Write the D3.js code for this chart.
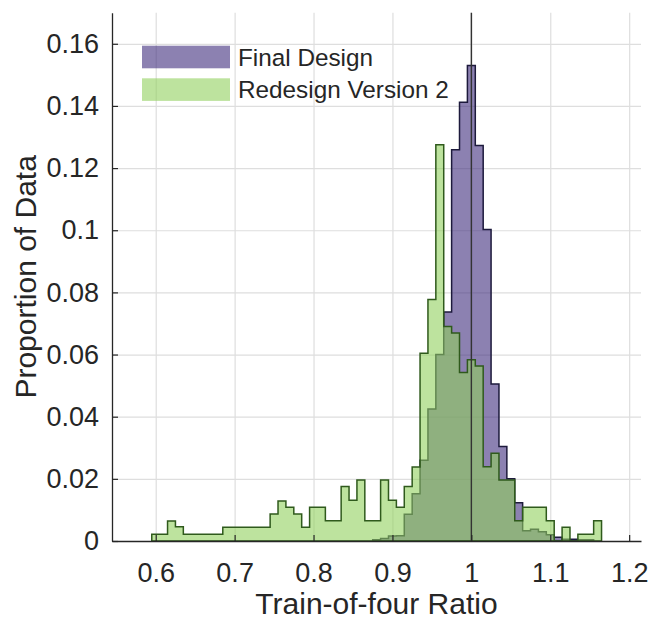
<!DOCTYPE html>
<html>
	<head>
		<title>Train-of-four histogram</title>
		<style>
			body,html
			{
				margin:0px;
				background:#ffffff;
			}
			text
			{
				font-family:"Liberation Sans", Arial, Helvetica, sans-serif;
				fill:#262626;
			}
		</style>
		<script src='https://cdn.jsdelivr.net/npm/d3@7/dist/d3.min.js'></script>
	</head>
	<body>
	<svg id='chart' width='650' height='622'></svg>
	<script>

		// histogram bins are 0.01 wide, listed by bin centre
		var binWidth = 0.01;

		var finalBins = [0.88, 0.89, 0.90, 0.91, 0.92, 0.93, 0.94, 0.95, 0.96, 0.97,
			0.98, 0.99, 1.00, 1.01, 1.02, 1.03, 1.04, 1.05, 1.06, 1.07,
			1.08, 1.09, 1.10, 1.11, 1.12, 1.13, 1.14, 1.15];
		var finalValues = [0.0004, 0.0008, 0.0016, 0.0017, 0.0086, 0.0152, 0.0260, 0.0425, 0.0600, 0.0737,
			0.1259, 0.1412, 0.1530, 0.1273, 0.1002, 0.0505, 0.0304, 0.0200, 0.0123, 0.0033,
			0.0038, 0.0030, 0.0020, 0.0012, 0.0006, 0.0006, 0.0004, 0.0004];

		var redesignBins = [0.60, 0.61, 0.62, 0.63, 0.64, 0.65, 0.66, 0.67, 0.68, 0.69,
			0.70, 0.71, 0.72, 0.73, 0.74, 0.75, 0.76, 0.77, 0.78, 0.79,
			0.80, 0.81, 0.82, 0.83, 0.84, 0.85, 0.86, 0.87, 0.88, 0.89,
			0.90, 0.91, 0.92, 0.93, 0.94, 0.95, 0.96, 0.97, 0.98, 0.99,
			1.00, 1.01, 1.02, 1.03, 1.04, 1.05, 1.06, 1.07, 1.08, 1.09,
			1.10, 1.11, 1.12, 1.13, 1.14, 1.15, 1.16];
		var redesignValues = [0.0022, 0.0022, 0.0064, 0.0046, 0.0022, 0.0022, 0.0022, 0.0022, 0.0022, 0.0044,
			0.0044, 0.0044, 0.0044, 0.0044, 0.0044, 0.0087, 0.0129, 0.0109, 0.0087, 0.0044,
			0.0109, 0.0109, 0.0065, 0.0065, 0.0175, 0.0131, 0.0196, 0.0065, 0.0065, 0.0196,
			0.0131, 0.0109, 0.0175, 0.0238, 0.0604, 0.0777, 0.1275, 0.0690, 0.0669, 0.0542,
			0.0583, 0.0563, 0.0239, 0.0282, 0.0196, 0.0196, 0.0065, 0.0109, 0.0109, 0.0109,
			0.0065, 0, 0.0044, 0, 0.0022, 0.0022, 0.0065];

		var xTicks = [0.6, 0.7, 0.8, 0.9, 1, 1.1, 1.2];
		var yTicks = [0, 0.02, 0.04, 0.06, 0.08, 0.1, 0.12, 0.14, 0.16];
		var seriesNames = ['Final Design', 'Redesign Version 2'];
		var refValue = 1;

		var width = 650;
		var height = 622;
		var margin = {left:112, right:9, top:12.7, bottom:81};

		var svg = d3.select('#chart');

		var x = d3.scaleLinear()
			.domain([0.5446, 1.215])
			.range([margin.left, width - margin.right]);

		var y = d3.scaleLinear()
			.domain([0, 0.17])
			.range([height - margin.bottom, margin.top]);

		var fmt = d3.format('~g');

		// grid
		svg.append('g')
			.attr('transform', 'translate(0,' + (height - margin.bottom) + ')')
			.call(d3.axisBottom(x).tickValues(xTicks).tickSize(-(height - margin.bottom - margin.top)).tickFormat(''))
			.call(function(g){ g.select('.domain').remove(); })
			.selectAll('line').attr('stroke', '#dedede').attr('stroke-width', 1.2);

		svg.append('g')
			.attr('transform', 'translate(' + margin.left + ',0)')
			.call(d3.axisLeft(y).tickValues(yTicks).tickSize(-(width - margin.left - margin.right)).tickFormat(''))
			.call(function(g){ g.select('.domain').remove(); })
			.selectAll('line').attr('stroke', '#dedede').attr('stroke-width', 1.2);

		function stepPoints(bins, values)
		{
			var pts = [];
			for(var i = 0; i < bins.length; i++)
			{
				pts.push([bins[i] - binWidth / 2, values[i]]);
				pts.push([bins[i] + binWidth / 2, values[i]]);
			}
			return pts;
		}

		var area = d3.area()
			.x(function(d){ return x(d[0]); })
			.y0(y(0))
			.y1(function(d){ return y(d[1]); });

		svg.append('path')
			.datum(stepPoints(finalBins, finalValues))
			.attr('d', area)
			.attr('fill', 'rgba(63,45,125,0.6)')
			.attr('stroke', '#1d1a3c')
			.attr('stroke-width', 1.5)
			.attr('stroke-linejoin', 'miter');

		svg.append('path')
			.datum(stepPoints(redesignBins, redesignValues))
			.attr('d', area)
			.attr('fill', 'rgba(145,209,94,0.6)')
			.attr('stroke', '#2f5a1c')
			.attr('stroke-width', 1.5)
			.attr('stroke-linejoin', 'miter');

		// reference line at ratio 1
		svg.append('line')
			.attr('x1', x(refValue)).attr('x2', x(refValue))
			.attr('y1', y(0.17)).attr('y2', y(0))
			.attr('stroke', '#333333')
			.attr('stroke-width', 1.4);

		// axes, ticks inside
		var xAxis = svg.append('g')
			.attr('transform', 'translate(0,' + (height - margin.bottom) + ')')
			.call(d3.axisBottom(x).tickValues(xTicks).tickFormat(fmt).tickSize(-6).tickSizeOuter(0).tickPadding(22));

		var yAxis = svg.append('g')
			.attr('transform', 'translate(' + margin.left + ',0)')
			.call(d3.axisLeft(y).tickValues(yTicks).tickFormat(fmt).tickSize(-6).tickSizeOuter(0).tickPadding(13));

		[xAxis, yAxis].forEach(function(g)
		{
			g.select('.domain').attr('stroke', '#262626').attr('stroke-width', 1.3);
			g.selectAll('.tick line').attr('stroke', '#262626').attr('stroke-width', 1.2);
			g.selectAll('.tick text')
				.style('font-family', '"Liberation Sans", Arial, sans-serif')
				.style('font-size', '27px')
				.attr('fill', '#262626');
		});

		svg.append('text')
			.attr('x', (margin.left + width - margin.right) / 2)
			.attr('y', 614)
			.attr('text-anchor', 'middle')
			.style('font-size', '30px')
			.text('Train-of-four Ratio');

		svg.append('text')
			.attr('transform', 'translate(36,' + ((margin.top + height - margin.bottom) / 2) + ') rotate(-90)')
			.attr('text-anchor', 'middle')
			.style('font-size', '30px')
			.text('Proportion of Data');

		// legend
		var legendColors = ['rgba(63,45,125,0.6)', 'rgba(145,209,94,0.6)'];
		var legend = svg.append('g');
		seriesNames.forEach(function(name, i)
		{
			legend.append('rect')
				.attr('x', 142).attr('y', 45.7 + i * 32.6)
				.attr('width', 88).attr('height', 22.6)
				.attr('fill', legendColors[i]);
			legend.append('text')
				.attr('x', 238).attr('y', 65.7 + i * 32.6)
				.style('font-size', '24.3px')
				.text(name);
		});

	</script>
	</body>
</html>
